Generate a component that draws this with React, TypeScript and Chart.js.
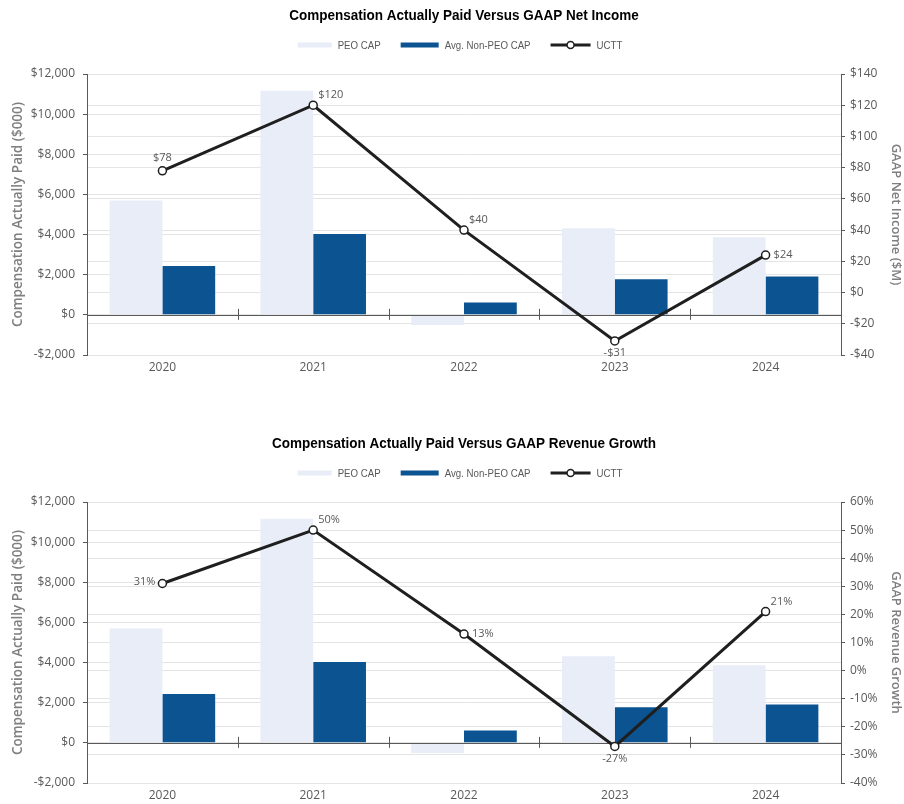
import React, { useEffect, useRef } from 'react';
import { Chart, registerables } from 'chart.js';

Chart.register(...registerables);

const years = ['2020', '2021', '2022', '2023', '2024'];
const peoCap = [5700, 11170, -500, 4320, 3870];
const nonPeoCap = [2440, 4030, 610, 1780, 1910];
const netIncome = [78, 120, 40, -31, 24];
const revenueGrowth = [31, 50, 13, -27, 21];

const seriesNames = ['PEO CAP', 'Avg. Non-PEO CAP', 'UCTT'];
const chartTitles = [
  'Compensation Actually Paid Versus GAAP Net Income',
  'Compensation Actually Paid Versus GAAP Revenue Growth',
];
const leftAxisTitle = 'Compensation Actually Paid ($000)';
const rightAxisTitles = ['GAAP Net Income ($M)', 'GAAP Revenue Growth'];
const leftRange = [-2000, 12000, 2000];
const netIncomeRange = [-40, 140, 20];
const growthRange = [-40, 60, 10];

const netIncomeLabelPos = ['above', 'aboveRight', 'aboveRight', 'below', 'right'];
const growthLabelPos = ['left', 'aboveRight', 'right', 'below', 'aboveRight'];

const LIGHT = '#e8edf7';
const DARK = '#0b5391';
const LINE = '#1f1f1f';
const TEXT = '#595959';
const GRID = '#e4e4e4';
const FONT = "'Open Sans', 'DejaVu Sans', sans-serif";
const SANS = "'Liberation Sans', Arial, sans-serif";

function fmtMoney(v: number) {
  const s = '$' + Math.abs(v).toLocaleString('en-US');
  return v < 0 ? '-' + s : s;
}
function fmtPct(v: number) {
  return v + '%';
}

function makePlugin(title: string, labelPos: string[], fmt: (v: number) => string) {
  return {
    id: 'custom',
    beforeDatasetDraw(chart: any, args: any) {
      if (args.index !== 2) return;
      const ctx = chart.ctx;
      const { left, right } = chart.chartArea;
      const y0 = chart.scales.y.getPixelForValue(0);
      ctx.save();
      ctx.strokeStyle = TEXT;
      ctx.lineWidth = 1;
      ctx.beginPath();
      ctx.moveTo(left, Math.round(y0) + 0.5);
      ctx.lineTo(right, Math.round(y0) + 0.5);
      const xs = chart.scales.x;
      for (let i = 0; i < years.length - 1; i++) {
        const xm = Math.round((xs.getPixelForValue(i) + xs.getPixelForValue(i + 1)) / 2) + 0.5;
        ctx.moveTo(xm, y0 - 6);
        ctx.lineTo(xm, y0 + 5);
      }
      ctx.stroke();
      ctx.restore();
    },
    afterDatasetsDraw(chart: any) {
      const ctx = chart.ctx;
      const meta = chart.getDatasetMeta(2);
      const data = chart.data.datasets[2].data as number[];
      ctx.save();
      ctx.font = `11px ${FONT}`;
      ctx.fillStyle = TEXT;
      meta.data.forEach((pt: any, i: number) => {
        const t = fmt(data[i]);
        const pos = labelPos[i];
        let x = pt.x, y = pt.y;
        ctx.textBaseline = 'middle';
        if (pos === 'above') { ctx.textAlign = 'center'; y -= 13; }
        else if (pos === 'below') { ctx.textAlign = 'center'; y += 12; }
        else if (pos === 'aboveRight') { ctx.textAlign = 'left'; x += 5; y -= 10; }
        else if (pos === 'right') { ctx.textAlign = 'left'; x += 8; }
        else if (pos === 'left') { ctx.textAlign = 'right'; x -= 7; y -= 2; }
        ctx.fillText(t, x, y);
      });
      ctx.restore();
    },
    afterDraw(chart: any) {
      const ctx = chart.ctx;
      const { left, right } = chart.chartArea;
      const cx = (left + right) / 2;
      ctx.save();
      // title (condensed by horizontal scale)
      ctx.font = `bold 15px ${SANS}`;
      ctx.fillStyle = '#000';
      ctx.textAlign = 'center';
      ctx.textBaseline = 'middle';
      ctx.save();
      ctx.translate(cx, 16);
      ctx.scale(0.9, 1);
      ctx.fillText(title, 0, 0);
      ctx.restore();
      // legend
      const sx = 0.88;
      ctx.font = `11px ${SANS}`;
      const symW = [34, 38, 40];
      const gapT = 6, gapI = 20;
      const widths = seriesNames.map((n) => ctx.measureText(n).width * sx);
      let total = 0;
      widths.forEach((w, i) => { total += symW[i] + gapT + w + (i < widths.length - 1 ? gapI : 0); });
      let x = cx - total / 2 - 4;
      const ly = 45;
      ctx.textAlign = 'left';
      seriesNames.forEach((n, i) => {
        const w = symW[i];
        if (i === 0 || i === 1) {
          ctx.fillStyle = i === 0 ? LIGHT : DARK;
          ctx.fillRect(x, ly - 2.5, w, 5);
        } else {
          ctx.strokeStyle = LINE;
          ctx.lineWidth = 3;
          ctx.beginPath();
          ctx.moveTo(x, ly);
          ctx.lineTo(x + w, ly);
          ctx.stroke();
          ctx.beginPath();
          ctx.arc(x + w / 2, ly, 3.5, 0, Math.PI * 2);
          ctx.fillStyle = '#fff';
          ctx.fill();
          ctx.lineWidth = 1.5;
          ctx.stroke();
        }
        ctx.fillStyle = TEXT;
        ctx.save();
        ctx.translate(x + w + gapT, ly + 1);
        ctx.scale(sx, 1);
        ctx.fillText(n, 0, 0);
        ctx.restore();
        x += w + gapT + widths[i] + gapI;
      });
      ctx.restore();
    },
  };
}

function buildConfig(idx: number): any {
  const lineData = idx === 0 ? netIncome : revenueGrowth;
  const rr = idx === 0 ? netIncomeRange : growthRange;
  const fmt = idx === 0 ? fmtMoney : fmtPct;
  const pos = idx === 0 ? netIncomeLabelPos : growthLabelPos;
  return {
    type: 'bar',
    data: {
      labels: years,
      datasets: [
        { type: 'bar', label: seriesNames[0], data: peoCap, backgroundColor: LIGHT, yAxisID: 'y', order: 2, categoryPercentage: 0.7, barPercentage: 1 },
        { type: 'bar', label: seriesNames[1], data: nonPeoCap, backgroundColor: DARK, yAxisID: 'y', order: 2, categoryPercentage: 0.7, barPercentage: 1 },
        {
          type: 'line', label: seriesNames[2], data: lineData, yAxisID: 'y1', order: 0,
          borderColor: LINE, borderWidth: 3, pointRadius: 4, pointBackgroundColor: '#fff',
          pointBorderColor: LINE, pointBorderWidth: 1.5, tension: 0,
        },
      ],
    },
    options: {
      animation: false,
      responsive: false,
      layout: { padding: { top: 74, left: 0, right: 0, bottom: 0 } },
      plugins: { legend: { display: false }, title: { display: false }, tooltip: { enabled: false } },
      scales: {
        x: {
          grid: { display: false, drawTicks: false },
          border: { display: false },
          ticks: { color: TEXT, font: { family: FONT, size: 12 }, padding: 5 },
          afterFit: (s: any) => { s.height = 21; },
        },
        y: {
          position: 'left',
          min: leftRange[0], max: leftRange[1],
          ticks: { stepSize: leftRange[2], color: TEXT, font: { family: FONT, size: 12 }, padding: 8, callback: (v: any) => fmtMoney(Number(v)) },
          grid: { color: GRID, tickColor: TEXT, tickLength: 4 },
          border: { display: true, color: TEXT },
          title: { display: true, text: leftAxisTitle, color: '#7f7f7f', font: { family: FONT, size: 13.5, weight: '600' }, padding: { top: 10, bottom: 0 } },
          afterFit: (s: any) => { s.width = 87; },
        },
        y1: {
          position: 'right',
          min: rr[0], max: rr[1],
          ticks: { stepSize: rr[2], color: TEXT, font: { family: FONT, size: 12 }, padding: 5, callback: (v: any) => fmt(Number(v)) },
          grid: { color: GRID, tickColor: TEXT, tickLength: 4, drawOnChartArea: true },
          border: { display: true, color: TEXT },
          title: { display: true, text: rightAxisTitles[idx], color: '#7f7f7f', font: { family: FONT, size: 13, weight: '600' }, padding: { top: 0, bottom: 0 } },
          afterFit: (s: any) => { s.width = 63; },
        },
      },
    },
    plugins: [makePlugin(chartTitles[idx], pos, fmt)],
  };
}

function ChartCanvas({ idx, top }: { idx: number; top: number }) {
  const ref = useRef<HTMLCanvasElement>(null);
  useEffect(() => {
    if (!ref.current) return;
    const chart = new Chart(ref.current, buildConfig(idx));
    return () => chart.destroy();
  }, [idx]);
  return (
    <canvas
      ref={ref}
      width={904}
      height={376}
      style={{ position: 'absolute', left: 0, top, width: 904, height: 376 }}
    />
  );
}

export default function App() {
  return (
    <div style={{ position: 'fixed', left: 0, top: 0, width: 904, height: 804, background: '#fff', overflow: 'hidden' }}>
      <ChartCanvas idx={0} top={0} />
      <ChartCanvas idx={1} top={428} />
    </div>
  );
}
